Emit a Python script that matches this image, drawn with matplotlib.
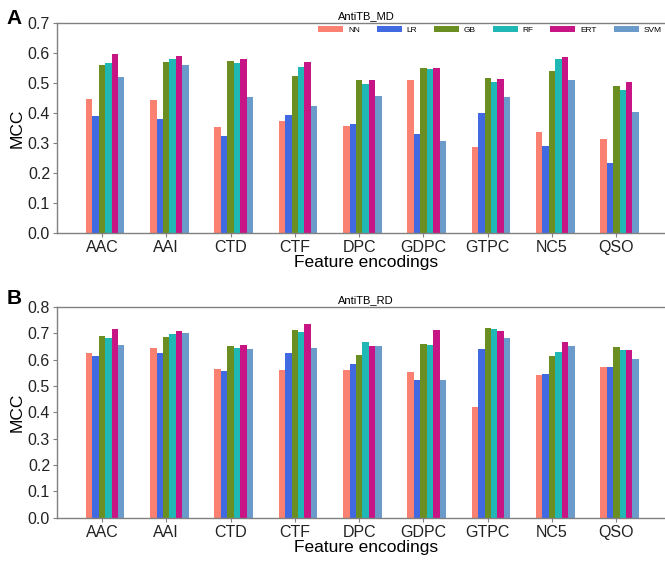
"""MCC of six classifiers across feature encodings (AntiTB_MD / AntiTB_RD)."""

import matplotlib

matplotlib.use("Agg")
import matplotlib.pyplot as plt
import numpy as np

plt.rcParams["font.family"] = ["Liberation Sans", "DejaVu Sans"]

encodings = ["AAC", "AAI", "CTD", "CTF", "DPC", "GDPC", "GTPC", "NC5", "QSO"]
models = ["NN", "LR", "GB", "RF", "ERT", "SVM"]
colors = ["#FA8072", "#4169E1", "#6B8E23", "#20B8B4", "#C71585", "#6A9BCB"]

# AntiTB_MD
md_nn = [0.447, 0.443, 0.353, 0.372, 0.358, 0.509, 0.287, 0.338, 0.313]
md_lr = [0.391, 0.380, 0.324, 0.392, 0.362, 0.331, 0.399, 0.290, 0.232]
md_gb = [0.559, 0.570, 0.573, 0.524, 0.509, 0.550, 0.517, 0.540, 0.489]
md_rf = [0.566, 0.580, 0.566, 0.552, 0.498, 0.546, 0.502, 0.580, 0.476]
md_ert = [0.597, 0.589, 0.580, 0.571, 0.509, 0.549, 0.514, 0.587, 0.503]
md_svm = [0.519, 0.559, 0.452, 0.423, 0.457, 0.308, 0.454, 0.509, 0.403]

# AntiTB_RD
rd_nn = [0.623, 0.642, 0.563, 0.561, 0.559, 0.551, 0.420, 0.541, 0.570]
rd_lr = [0.614, 0.624, 0.556, 0.623, 0.584, 0.523, 0.639, 0.547, 0.573]
rd_gb = [0.690, 0.686, 0.653, 0.713, 0.619, 0.659, 0.719, 0.614, 0.646]
rd_rf = [0.681, 0.696, 0.642, 0.705, 0.665, 0.654, 0.715, 0.629, 0.635]
rd_ert = [0.715, 0.708, 0.656, 0.734, 0.651, 0.713, 0.709, 0.665, 0.635]
rd_svm = [0.656, 0.700, 0.639, 0.644, 0.651, 0.523, 0.680, 0.653, 0.603]

md = [md_nn, md_lr, md_gb, md_rf, md_ert, md_svm]
rd = [rd_nn, rd_lr, rd_gb, rd_rf, rd_ert, rd_svm]

fig = plt.figure(figsize=(6.65, 5.64), dpi=100)
# axes run a little past the right edge of the figure, so no right spine shows
ax_a = fig.add_axes([0.0857, 0.587, 0.93, 0.372])
ax_b = fig.add_axes([0.0857, 0.082, 0.93, 0.374])

x = np.arange(len(encodings))
w = 0.1


def draw(ax, data, title, ymax, show_legend):
    for i, (name, vals) in enumerate(zip(models, data)):
        ax.bar(x + (i - 2) * w, vals, width=w, color=colors[i], label=name)
    ax.set_xticks(x)
    ax.set_xticklabels(encodings, fontsize=11.5)
    ax.set_xlim(-0.7, 8.92)
    ax.set_ylim(0, ymax)
    yt = np.arange(0, ymax + 0.01, 0.1)
    ax.set_yticks(yt)
    ax.set_yticklabels([f"{v:.1f}" for v in yt], fontsize=11.5)
    ax.set_ylabel("MCC", fontsize=12.5, labelpad=2)
    ax.set_xlabel("Feature encodings", fontsize=12.5, labelpad=0)
    ax.set_title(title, fontsize=8, pad=3)
    for s in ax.spines.values():
        s.set_color("#808080")
        s.set_linewidth(1.0)
    ax.tick_params(colors="#808080", labelcolor="#222222", length=3, pad=2)
    if show_legend:
        ax.legend(loc="upper right", ncol=6, frameon=False, fontsize=6,
                  handlelength=3.0, handleheight=0.6, columnspacing=2.0,
                  handletextpad=0.6, bbox_to_anchor=(0.99, 1.02))


draw(ax_a, md, "AntiTB_MD", 0.7, True)
draw(ax_b, rd, "AntiTB_RD", 0.8, False)

fig.text(0.01, 0.968, "A", fontsize=15, fontweight="bold", va="center")
fig.text(0.01, 0.47, "B", fontsize=15, fontweight="bold", va="center")

fig.savefig("out.png", dpi=100)
